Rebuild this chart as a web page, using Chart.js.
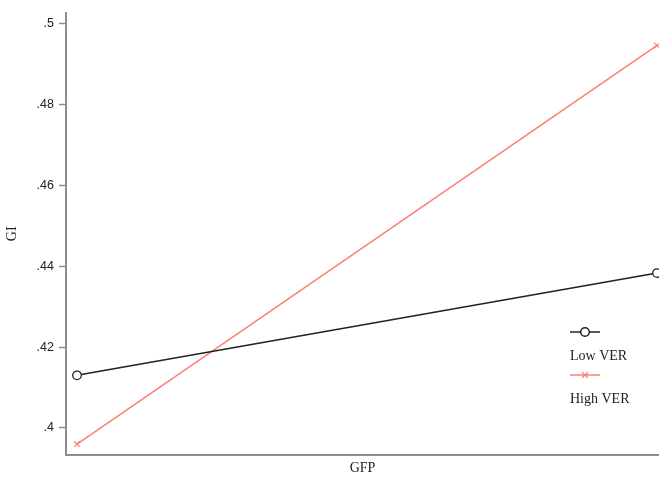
<!DOCTYPE html>
<html>
<head>
<meta charset="utf-8">
<script src="https://cdn.jsdelivr.net/npm/chart.js@4/dist/chart.umd.min.js"></script>
<style>
  html, body { margin: 0; padding: 0; background: #fff; }
  #wrap { width: 659px; height: 477px; }
</style>
</head>
<body>
<div id="wrap"><canvas id="chart" width="659" height="477"></canvas></div>
<script>
// Data (GFP low -> high)
const gfpLevels = [0, 1];
const lowVer = [0.4130, 0.4383];
const highVer = [0.3960, 0.4946];
const seriesNames = ["Low VER", "High VER"];
const yTicks = [0.4, 0.42, 0.44, 0.46, 0.48, 0.5];

const AXIS_GRAY = "#8c8c8c";
const LOW_COLOR = "#222222";
const HIGH_COLOR = "rgb(250,128,114)";

// Format ticks the Stata way: ".42", ".5"
function stataLabel(v) {
    return String(+v.toFixed(2)).replace(/^0/, "");
}

// Legend drawn inside the plot: marker line above its label
const stackedLegend = {
    id: "stackedLegend",
    afterDraw(chart) {
        const ctx = chart.ctx;
        const x0 = 570, x1 = 600;
        const items = [
            { y: 332, color: LOW_COLOR, style: "circle" },
            { y: 375, color: HIGH_COLOR, style: "cross" }
        ];
        ctx.save();
        items.forEach((it, i) => {
            ctx.strokeStyle = it.color;
            ctx.lineWidth = 1.5;
            ctx.beginPath();
            ctx.moveTo(x0, it.y);
            ctx.lineTo(x1, it.y);
            ctx.stroke();
            const cx = (x0 + x1) / 2;
            ctx.beginPath();
            if (it.style === "circle") {
                ctx.fillStyle = "#fff";
                ctx.arc(cx, it.y, 4.3, 0, Math.PI * 2);
                ctx.fill();
                ctx.stroke();
            } else {
                ctx.lineWidth = 1.2;
                ctx.moveTo(cx - 3, it.y - 3); ctx.lineTo(cx + 3, it.y + 3);
                ctx.moveTo(cx + 3, it.y - 3); ctx.lineTo(cx - 3, it.y + 3);
                ctx.stroke();
            }
            ctx.fillStyle = "#222";
            ctx.font = "14px 'Liberation Serif'";
            ctx.textAlign = "left";
            ctx.textBaseline = "middle";
            ctx.fillText(seriesNames[i], x0, it.y + 24);
        });
        ctx.restore();
    }
};

const toPoints = arr => arr.map((v, i) => ({ x: gfpLevels[i], y: v }));

new Chart(document.getElementById("chart"), {
    type: "line",
    data: {
        datasets: [
            {
                label: seriesNames[0],
                data: toPoints(lowVer),
                borderColor: LOW_COLOR,
                borderWidth: 1.5,
                pointStyle: "circle",
                pointRadius: 4.3,
                pointBorderWidth: 1.3,
                pointBackgroundColor: "#fff",
                pointBorderColor: LOW_COLOR,
                clip: false
            },
            {
                label: seriesNames[1],
                data: toPoints(highVer),
                borderColor: HIGH_COLOR,
                borderWidth: 1.5,
                pointStyle: "cross",
                pointRotation: 45,
                pointRadius: 4,
                pointBorderWidth: 1.2,
                pointBorderColor: HIGH_COLOR,
                clip: false
            }
        ]
    },
    options: {
        responsive: false,
        animation: false,
        layout: { autoPadding: false, padding: { top: 10, right: 0, left: 0, bottom: 0 } },
        plugins: {
            legend: { display: false },
            tooltip: { enabled: false }
        },
        scales: {
            x: {
                type: "linear",
                min: -0.019,
                max: 1.0034,
                afterFit: s => { s.height = 22; },
                ticks: { display: false },
                grid: { display: false },
                border: { color: AXIS_GRAY, width: 2 },
                title: {
                    display: true,
                    text: "GFP",
                    color: "#222",
                    font: { family: "Liberation Serif", size: 14 },
                    padding: { top: 0, bottom: 0 }
                }
            },
            y: {
                min: 0.3933,
                max: 0.50276,
                afterFit: s => { s.width = 66; },
                afterBuildTicks: s => { s.ticks = yTicks.map(v => ({ value: v })); },
                ticks: {
                    callback: v => stataLabel(v),
                    color: "#222",
                    font: { family: "Liberation Sans", size: 12.5 },
                    padding: 5
                },
                grid: {
                    drawOnChartArea: false,
                    drawTicks: true,
                    tickLength: 7,
                    tickWidth: 1.5,
                    tickColor: AXIS_GRAY
                },
                border: { color: AXIS_GRAY, width: 2 },
                title: {
                    display: true,
                    text: "GI",
                    color: "#222",
                    font: { family: "Liberation Serif", size: 14 },
                    padding: { top: 4, bottom: 0 }
                }
            }
        }
    },
    plugins: [stackedLegend]
});
</script>
</body>
</html>
